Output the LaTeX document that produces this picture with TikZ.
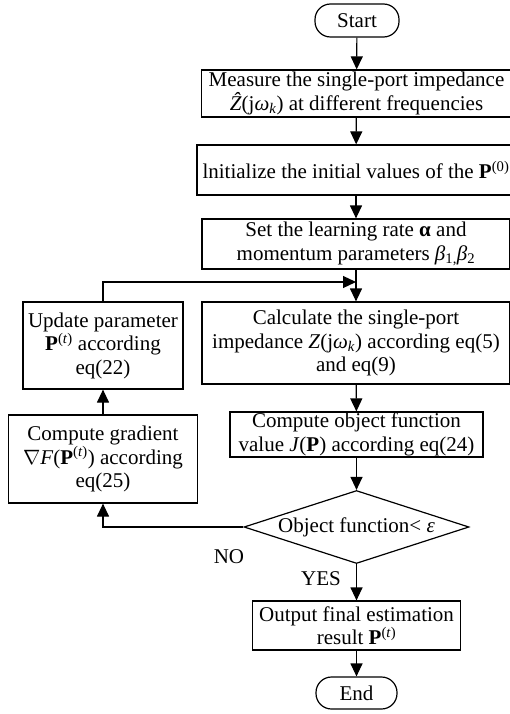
\documentclass[tikz,border=0pt]{standalone}
\usepackage{fontspec}
\setmainfont{Liberation Serif}
\usetikzlibrary{arrows.meta,shapes.geometric}
\newcommand{\fsz}{\fontsize{21}{23.5}\selectfont}
\newcommand{\Pb}{\textbf{P}}
\tikzset{
  box/.style={draw, line width=1.2pt, rectangle, align=center, inner sep=0pt, font=\fsz},
  term/.style={draw, line width=1.2pt, rectangle, rounded corners=15.5pt, align=center, inner sep=0pt, font=\fsz},
  dec/.style={draw, line width=1.2pt, diamond, shape aspect=3, align=center, inner sep=0pt, font=\fsz},
  arr/.style={line width=1.2pt, -{Triangle[length=13pt,width=12pt]}},
  lbl/.style={font=\fsz, inner sep=0pt}
}
\begin{document}
\begin{tikzpicture}[x=1pt,y=-1pt]
\useasboundingbox (0,0) rectangle (510,714);
\clip (0,0) rectangle (510,714);
\node[term, minimum width=84pt, minimum height=33pt] (start) at (357,20.5) {Start};
\node[box, minimum width=310pt, minimum height=47pt] (b1) at (356.5,93.5) {Measure the single-port impedance\\ \textit{\^Z}(j\textit{ω}\textsubscript{\textit{k}}) at different frequencies};
\node[box, minimum width=318pt, minimum height=50pt] (b2) at (356,170) {lnitialize the initial values of the \Pb\textsuperscript{(0)}};
\node[box, minimum width=308pt, minimum height=50pt] (b3) at (356,244) {Set the learning rate \textbf{α} and\\ momentum parameters \textit{β}\textsubscript{1,}\textit{β}\textsubscript{2}};
\node[box, minimum width=308pt, minimum height=82pt] (b4) at (356,343) {Calculate the single-port\\ impedance \textit{Z}(j\textit{ω}\textsubscript{\textit{k}}) according eq(5)\\ and eq(9)};
\node[box, minimum width=253pt, minimum height=45pt] (b5) at (356.5,434.5) {Compute object function\\ value \textit{J}(\Pb) according eq(24)};
\node[dec, minimum width=225pt, minimum height=73pt] (dia) at (356.5,527) {Object function< \textit{ε}};
\node[box, minimum width=208pt, minimum height=49pt] (out) at (356.5,625.5) {Output final estimation\\ result \Pb\textsuperscript{(\textit{t})}};
\node[term, minimum width=81pt, minimum height=32pt] (end) at (356.5,693) {End};
\node[box, minimum width=160pt, minimum height=87pt] (upd) at (103,345.5) {Update parameter\\ \Pb\textsuperscript{(\textit{t})} according\\ eq(22)};
\node[box, minimum width=189pt, minimum height=88pt] (grad) at (103,459) {Compute gradient\\ $\nabla$\textit{F}(\Pb\textsuperscript{(\textit{t})}) according\\ eq(25)};
\coordinate (J) at (b3.south |- 0,282);
\node[lbl] (no) at (229,557) {NO};
\node[lbl] (yes) at (321,579) {YES};
\draw[arr] (start) -- (b1);
\draw[arr] (b1) -- (b2);
\draw[arr] (b2) -- (b3);
\draw[arr] (b3.south) -- (b4.north);
\draw[arr] (upd.north) |- (J);
\draw[arr] (b4) -- (b5);
\draw[arr] (b5) -- (dia);
\draw[arr] (dia) -- (out);
\draw[arr] (out) -- (end);
\draw[arr] (dia.west) -| (grad.south);
\draw[arr] (grad) -- (upd);
\end{tikzpicture}
\end{document}
